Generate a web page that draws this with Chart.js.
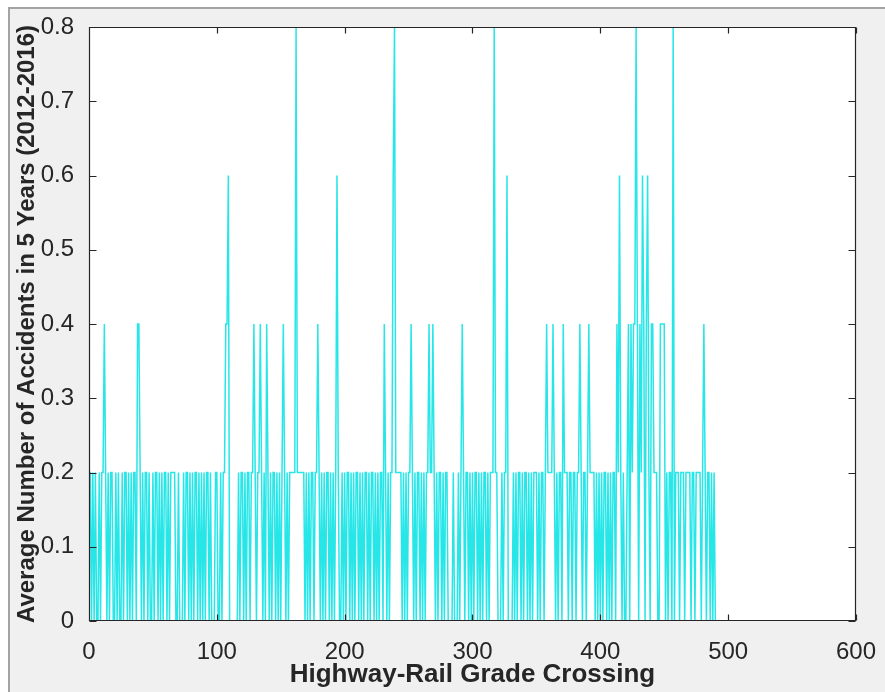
<!DOCTYPE html>
<html>
<head>
<meta charset="utf-8">
<script src="https://cdn.jsdelivr.net/npm/chart.js@4.4.1/dist/chart.umd.min.js"></script>
<style>
html,body{margin:0;padding:0;background:#ffffff;}
#wrap{width:885px;height:692px;position:relative;}
canvas{display:block;}
</style>
</head>
<body>
<div id="wrap"><canvas id="c" width="885" height="692"></canvas></div>
<script>
// ---- data ----
const xTicks = [0, 100, 200, 300, 400, 500, 600];
const yTicks = [0, 0.1, 0.2, 0.3, 0.4, 0.5, 0.6, 0.7, 0.8];
const yTickLabels = ['0', '0.1', '0.2', '0.3', '0.4', '0.5', '0.6', '0.7', '0.8'];
const xTitle = 'Highway-Rail Grade Crossing';
const yTitle = 'Average Number of Accidents in 5 Years (2012-2016)';

// crossings 0-49
const crossings000 = [
  .2,.2,0,.2,0,.2,0,0,.2,0,
  .2,.2,.4,.2,0,.2,0,.2,.2,0,
  0,.2,0,.2,0,0,.2,0,.2,.2,
  0,.2,0,.2,0,.2,.2,0,.4,.4,
  .2,0,.2,0,.2,.2,0,.2,0,0
];
// crossings 50-99
const crossings050 = [
  .2,0,.2,.2,0,.2,0,.2,0,.2,
  .2,0,.2,0,.2,.2,.2,.2,0,0,
  .2,0,0,0,.2,0,.2,.2,0,.2,
  0,.2,0,.2,.2,0,.2,0,.2,0,
  .2,0,.2,.2,0,.2,0,0,0,.2
];
// crossings 100-149
const crossings100 = [
  .2,0,0,.2,0,.2,.2,.4,.4,.6,
  0,0,0,0,0,0,0,.2,0,.2,
  .2,0,.2,0,.2,.2,0,.2,.2,.4,
  .2,0,.2,.2,.4,.2,0,.2,0,.4,
  .2,0,.2,0,.2,.2,0,.2,0,.2
];
// crossings 150-199
const crossings150 = [
  0,.2,.4,.2,0,.2,0,.2,.2,.2,
  .2,.2,.8,.2,.2,.2,.2,.2,.2,0,
  .2,0,.2,0,.2,.2,0,.2,.2,.4,
  .2,0,.2,0,.2,0,.2,.2,0,.2,
  0,.2,0,.2,.6,.2,0,0,.2,0
];
// crossings 200-249
const crossings200 = [
  .2,0,.2,.2,0,.2,0,.2,0,.2,
  .2,0,.2,0,.2,0,.2,.2,0,.2,
  0,.2,.2,0,.2,0,.2,0,.2,.2,
  0,.4,.2,0,.2,0,.2,.2,.6,.8,
  .2,.2,.2,.2,.2,0,.2,0,.2,0
];
// crossings 250-299
const crossings250 = [
  .2,.2,.4,.2,0,.2,0,.2,.2,0,
  .2,0,.2,0,.2,.2,.4,.2,.2,.4,
  .2,0,.2,0,.2,.2,0,.2,0,.2,
  .2,0,0,0,0,.2,0,0,0,.2,
  0,.2,.4,.2,0,.2,.2,0,.2,0
];
// crossings 300-349
const crossings300 = [
  .2,0,.2,.2,0,.2,0,.2,0,.2,
  .2,0,.2,0,.2,.2,.2,.8,.2,.2,
  0,0,0,.2,0,.2,.2,.6,0,0,
  0,0,.2,0,.2,0,.2,.2,0,.2,
  0,.2,.2,0,.2,0,.2,0,.2,.2
];
// crossings 350-399
const crossings350 = [
  .2,0,.2,0,.2,.2,0,.2,.4,.2,
  .2,.2,.2,.4,.2,0,.2,0,.2,.2,
  0,.4,.2,.2,.2,0,.2,.2,0,.2,
  .2,0,.2,.2,.4,.2,0,.2,.2,0,
  .2,.4,.2,.2,.2,.2,0,.2,0,.2
];
// crossings 400-449
const crossings400 = [
  0,.2,0,.2,.2,0,.2,0,.2,0,
  .2,.2,0,.4,.2,.6,.2,0,.2,0,
  0,.2,.4,0,.4,.2,.4,.4,.8,.4,
  0,.4,.2,.6,.4,0,.4,.6,.2,0,
  .4,.4,.2,.2,.2,0,0,.4,.4,.4
];
// crossings 450-489
const crossings450 = [
  .4,0,.2,0,.2,.2,0,.8,0,.2,
  .2,.2,0,.2,.2,.2,0,.2,.2,.2,
  .2,0,.2,.2,0,.2,.2,.2,.2,0,
  .2,.4,.2,0,.2,.2,0,.2,0,.2
];
// flat zero tail after the last crossing
const tailX = [490, 599];
const tailY = [0, 0];

// ---- build dataset from the arrays ----
const allValues = [].concat(crossings000, crossings050, crossings100, crossings150,
  crossings200, crossings250, crossings300, crossings350, crossings400, crossings450);
const points = allValues.map((v, i) => ({x: i, y: v}));
tailX.forEach((x, i) => points.push({x: x, y: tailY[i]}));

const AXIS = '#262626';
const FONT = '"Liberation Sans", Arial, sans-serif';

const framePlugin = {
  id: 'frame',
  beforeDraw(chart) {
    const ctx = chart.ctx;
    const a = chart.chartArea;
    ctx.save();
    ctx.fillStyle = '#ffffff';
    ctx.fillRect(0, 0, chart.width, chart.height);
    ctx.fillStyle = '#f0f0f0';
    ctx.fillRect(9, 8, chart.width - 9, chart.height - 8);
    ctx.strokeStyle = '#a3a3a3';
    ctx.lineWidth = 2;
    ctx.beginPath();
    ctx.moveTo(9, chart.height);
    ctx.lineTo(9, 8);
    ctx.lineTo(chart.width, 8);
    ctx.stroke();
    ctx.fillStyle = '#ffffff';
    ctx.fillRect(a.left, a.top, a.right - a.left, a.bottom - a.top);
    ctx.restore();
  },
  afterDatasetsDraw(chart) {
    const ctx = chart.ctx;
    const a = chart.chartArea;
    const xs = chart.scales.x, ys = chart.scales.y;
    const L = Math.round(a.left) + 0.5, R = Math.round(a.right) - 0.5;
    const T = Math.round(a.top) + 0.5, B = Math.round(a.bottom) - 0.5;
    ctx.save();
    ctx.strokeStyle = AXIS;
    ctx.lineWidth = 1.2;
    ctx.beginPath();
    ctx.rect(L, T, R - L, B - T);
    xTicks.forEach(v => {
      const px = Math.round(xs.getPixelForValue(v)) + 0.5;
      ctx.moveTo(px, B); ctx.lineTo(px, B - 6);
      ctx.moveTo(px, T); ctx.lineTo(px, T + 6);
    });
    yTicks.forEach(v => {
      const py = Math.round(ys.getPixelForValue(v)) + 0.5;
      ctx.moveTo(L, py); ctx.lineTo(L + 7, py);
      ctx.moveTo(R, py); ctx.lineTo(R - 7, py);
    });
    ctx.stroke();
    ctx.restore();
  }
};

new Chart(document.getElementById('c'), {
  type: 'line',
  data: {
    datasets: [{
      data: points,
      borderColor: 'rgb(38,230,232)',
      borderWidth: 1.5,
      pointRadius: 0,
      pointHoverRadius: 0,
      tension: 0,
      fill: false
    }]
  },
  options: {
    responsive: false,
    devicePixelRatio: 1,
    animation: false,
    events: [],
    layout: {padding: {left: 0, top: 27, right: 25, bottom: 0}},
    plugins: {legend: {display: false}, tooltip: {enabled: false}, title: {display: false}},
    scales: {
      x: {
        type: 'linear',
        min: 0, max: 600,
        grid: {display: false},
        border: {display: false},
        afterBuildTicks: s => { s.ticks = xTicks.map(v => ({value: v})); },
        afterFit: s => { s.height = 71; },
        ticks: {
          padding: 9,
          maxRotation: 0,
          color: AXIS,
          font: {family: FONT, size: 24, lineHeight: 1.2},
          callback: (v) => String(v)
        },
        title: {
          display: true,
          text: xTitle,
          color: AXIS,
          padding: {top: 0, bottom: 2},
          font: {family: FONT, size: 26, weight: 'bold', lineHeight: 1.2}
        }
      },
      y: {
        type: 'linear',
        min: 0, max: 0.8,
        grid: {display: false},
        border: {display: false},
        afterBuildTicks: s => { s.ticks = yTicks.map(v => ({value: v})); },
        afterFit: s => { s.width = 89; },
        ticks: {
          padding: 7,
          color: AXIS,
          font: {family: FONT, size: 24, lineHeight: 1.2},
          callback: (v, i) => yTickLabels[i]
        },
        title: {
          display: true,
          text: yTitle,
          color: AXIS,
          padding: {top: 13, bottom: 0},
          font: {family: FONT, size: 24, weight: 'bold', lineHeight: 1.2}
        }
      }
    }
  },
  plugins: [framePlugin]
});
</script>
</body>
</html>
